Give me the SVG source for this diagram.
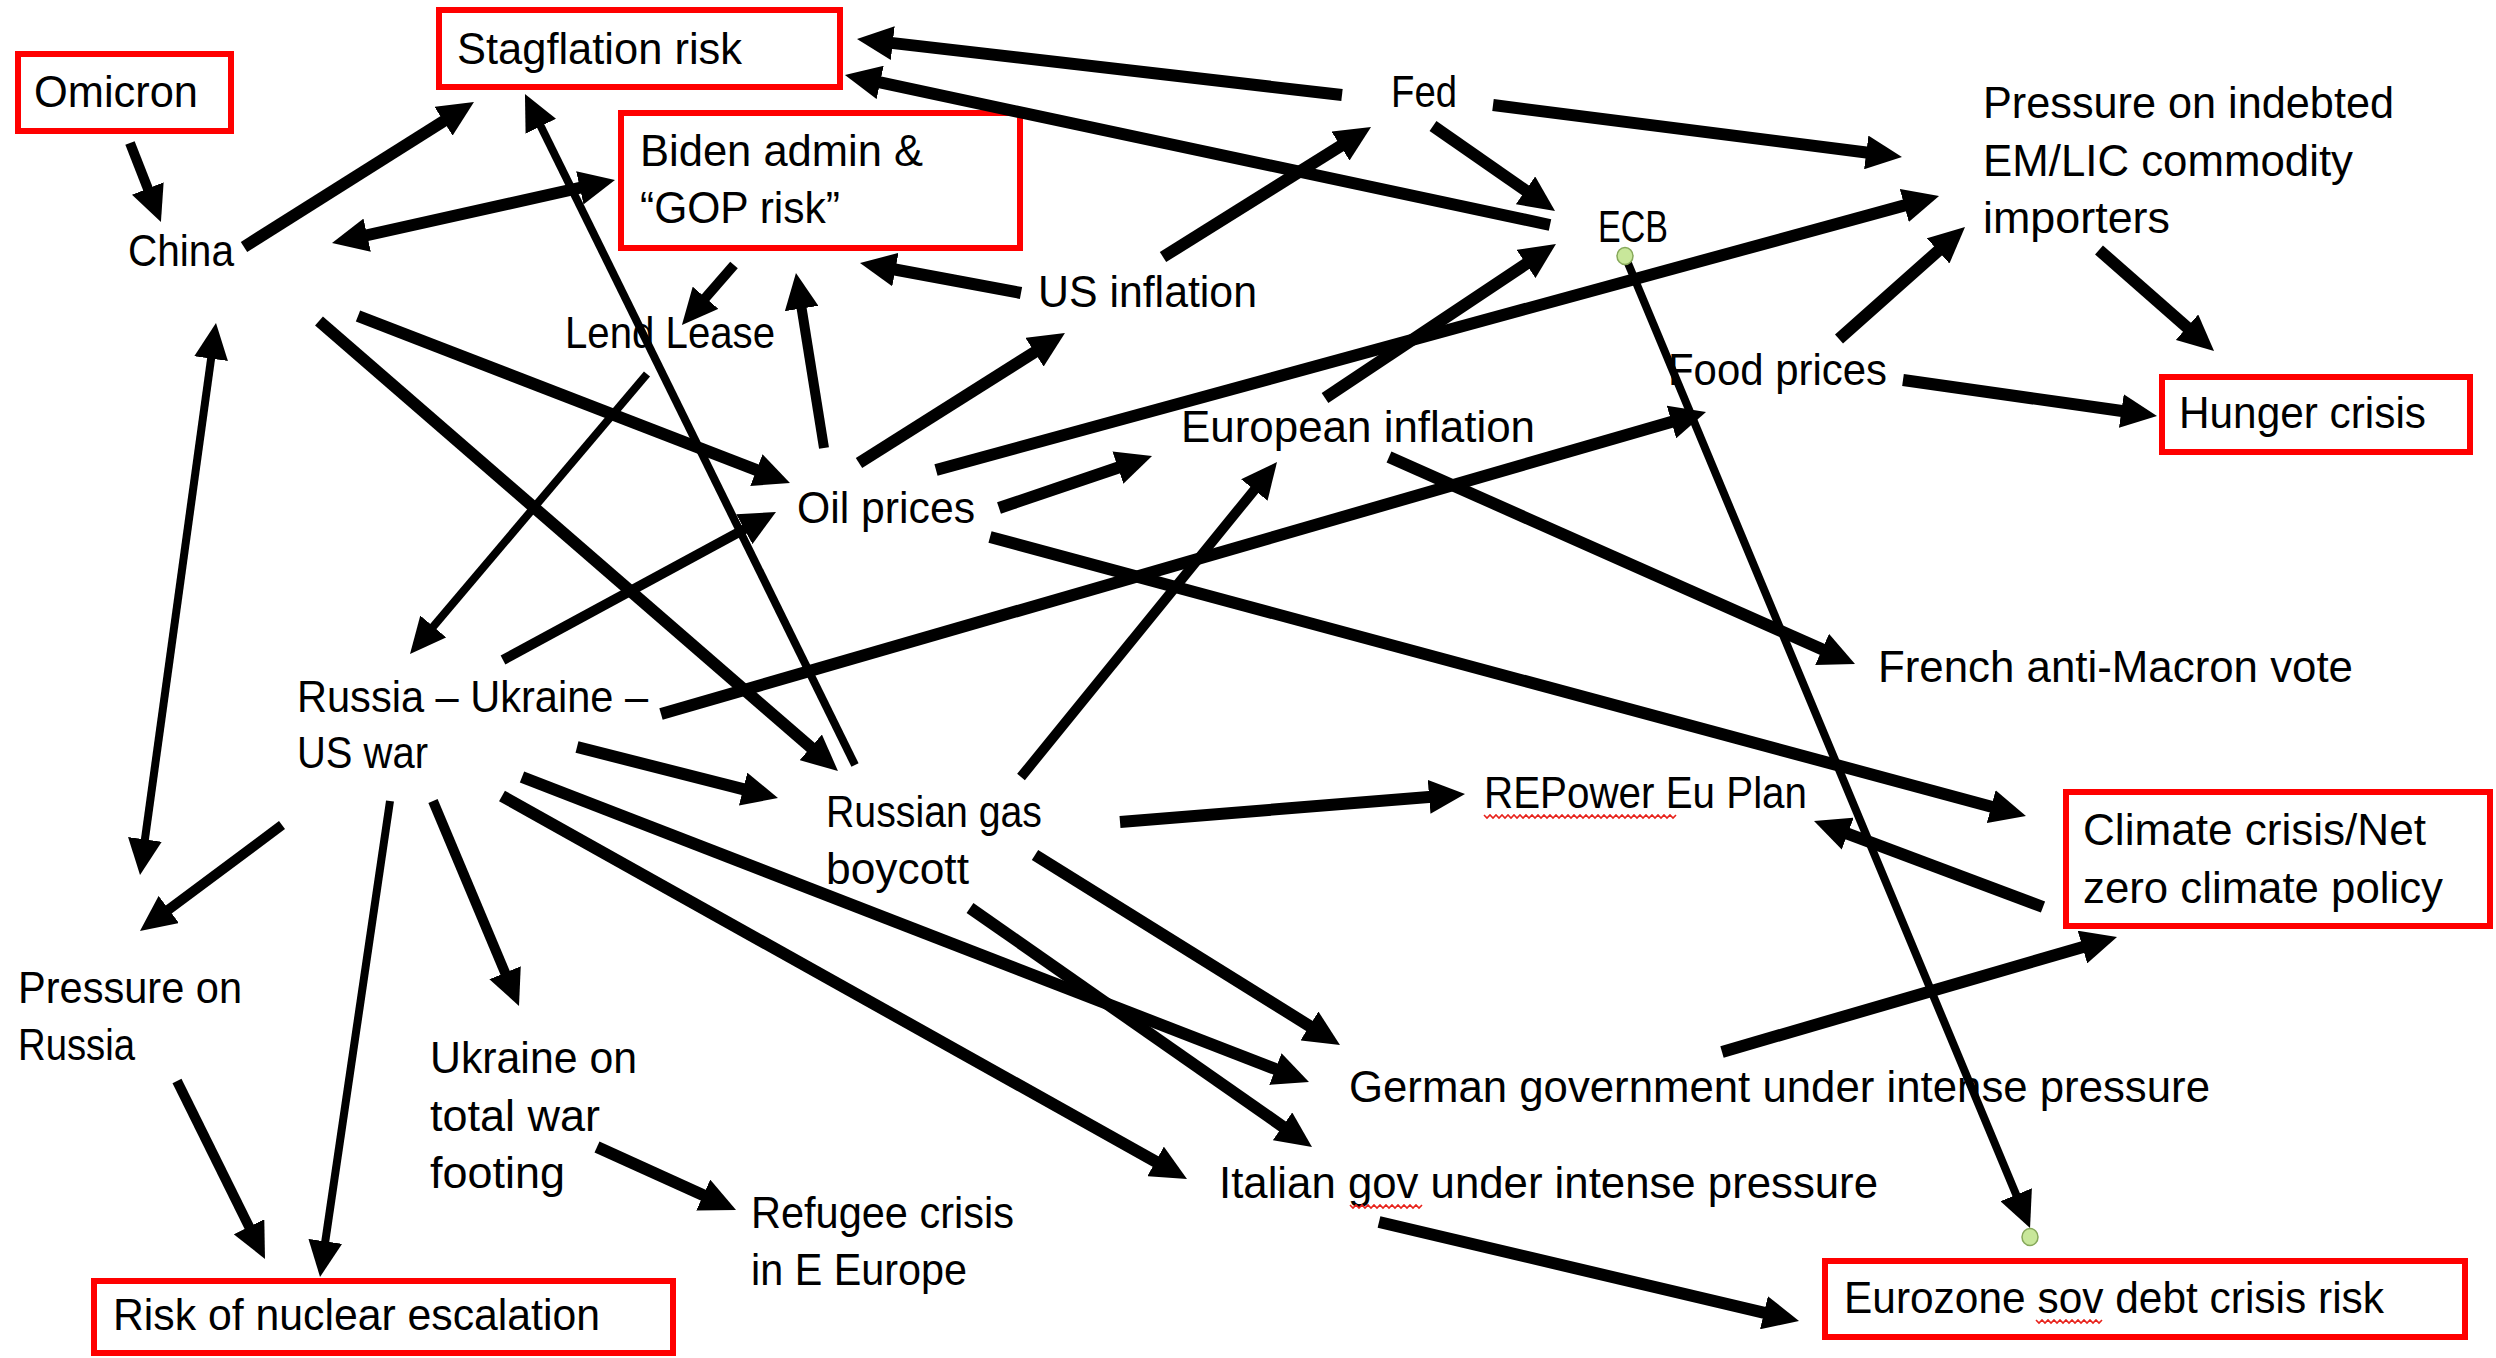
<svg xmlns="http://www.w3.org/2000/svg" width="2496" height="1358" viewBox="0 0 2496 1358">
<defs>
<style>
text{font-family:"Liberation Sans",Arial,sans-serif;font-size:44px;fill:#000}
.box{fill:none;stroke:#ff0000;stroke-width:6}
.c{stroke:#000;fill:none;stroke-width:12;marker-end:url(#ah)}
.m{stroke-width:10}
.t{stroke-width:8}
.both{marker-start:url(#ahs)}
.sq{fill:none;stroke:#e8231c;stroke-width:1.6}
.dot{fill:#c8e79a;stroke:#86a85a;stroke-width:1.5}
</style>
<marker id="ah" markerUnits="userSpaceOnUse" markerWidth="36" markerHeight="34" refX="6" refY="17" orient="auto"><path d="M0,0 L36,17 L0,34 Z" fill="#000"/></marker>
<marker id="ahs" markerUnits="userSpaceOnUse" markerWidth="36" markerHeight="34" refX="6" refY="17" orient="auto-start-reverse"><path d="M0,0 L36,17 L0,34 Z" fill="#000"/></marker>
</defs>
<rect width="2496" height="1358" fill="#fff"/>

<g id="omicron"><rect class="box" x="18" y="54" width="213" height="77"/><text x="34" y="107" textLength="164" lengthAdjust="spacingAndGlyphs">Omicron</text></g>
<g id="stagflation"><rect class="box" x="439" y="10" width="401" height="77"/><text x="457" y="64" textLength="285" lengthAdjust="spacingAndGlyphs">Stagflation risk</text></g>
<g id="china"><text x="128" y="266" textLength="106" lengthAdjust="spacingAndGlyphs">China</text></g>
<g id="biden"><rect class="box" x="621" y="113" width="399" height="135"/><text x="640" y="166" textLength="283" lengthAdjust="spacingAndGlyphs">Biden admin &amp;</text><text x="640" y="223" textLength="200" lengthAdjust="spacingAndGlyphs">“GOP risk”</text></g>
<g id="fed"><text x="1391" y="107" textLength="66" lengthAdjust="spacingAndGlyphs">Fed</text></g>
<g id="ecb"><text x="1598" y="242" textLength="70" lengthAdjust="spacingAndGlyphs">ECB</text></g>
<g id="em-pressure"><text x="1983" y="118" textLength="411" lengthAdjust="spacingAndGlyphs">Pressure on indebted</text><text x="1983" y="176" textLength="370" lengthAdjust="spacingAndGlyphs">EM/LIC commodity</text><text x="1983" y="233" textLength="187" lengthAdjust="spacingAndGlyphs">importers</text></g>
<g id="lend-lease"><text x="565" y="348" textLength="210" lengthAdjust="spacingAndGlyphs">Lend Lease</text></g>
<g id="us-inflation"><text x="1038" y="307" textLength="219" lengthAdjust="spacingAndGlyphs">US inflation</text></g>
<g id="food-prices"><text x="1668" y="385" textLength="219" lengthAdjust="spacingAndGlyphs">Food prices</text></g>
<g id="hunger"><rect class="box" x="2162" y="377" width="308" height="75"/><text x="2179" y="428" textLength="247" lengthAdjust="spacingAndGlyphs">Hunger crisis</text></g>
<g id="european-inflation"><text x="1181" y="442" textLength="354" lengthAdjust="spacingAndGlyphs">European inflation</text></g>
<g id="oil-prices"><text x="797" y="523" textLength="178" lengthAdjust="spacingAndGlyphs">Oil prices</text></g>
<g id="russia-war"><text x="297" y="712" textLength="351" lengthAdjust="spacingAndGlyphs">Russia – Ukraine –</text><text x="297" y="768" textLength="131" lengthAdjust="spacingAndGlyphs">US war</text></g>
<g id="french"><text x="1878" y="682" textLength="475" lengthAdjust="spacingAndGlyphs">French anti-Macron vote</text></g>
<g id="russian-gas"><text x="826" y="827" textLength="216" lengthAdjust="spacingAndGlyphs">Russian gas</text><text x="826" y="884" textLength="143" lengthAdjust="spacingAndGlyphs">boycott</text></g>
<g id="repower"><text x="1484" y="808" textLength="323" lengthAdjust="spacingAndGlyphs">REPower Eu Plan</text><path class="sq" d="M1484,815 l3,3 l3,-3 l3,3 l3,-3 l3,3 l3,-3 l3,3 l3,-3 l3,3 l3,-3 l3,3 l3,-3 l3,3 l3,-3 l3,3 l3,-3 l3,3 l3,-3 l3,3 l3,-3 l3,3 l3,-3 l3,3 l3,-3 l3,3 l3,-3 l3,3 l3,-3 l3,3 l3,-3 l3,3 l3,-3 l3,3 l3,-3 l3,3 l3,-3 l3,3 l3,-3 l3,3 l3,-3 l3,3 l3,-3 l3,3 l3,-3 l3,3 l3,-3 l3,3 l3,-3 l3,3 l3,-3 l3,3 l3,-3 l3,3 l3,-3 l3,3 l3,-3 l3,3 l3,-3 l3,3 l3,-3 l3,3 l3,-3 l3,3 l3,-3"/></g>
<g id="climate"><rect class="box" x="2066" y="792" width="424" height="134"/><text x="2083" y="845" textLength="343" lengthAdjust="spacingAndGlyphs">Climate crisis/Net</text><text x="2083" y="903" textLength="360" lengthAdjust="spacingAndGlyphs">zero climate policy</text></g>
<g id="pressure-russia"><text x="18" y="1003" textLength="224" lengthAdjust="spacingAndGlyphs">Pressure on</text><text x="18" y="1060" textLength="117" lengthAdjust="spacingAndGlyphs">Russia</text></g>
<g id="ukraine-total"><text x="430" y="1073" textLength="207" lengthAdjust="spacingAndGlyphs">Ukraine on</text><text x="430" y="1131" textLength="170" lengthAdjust="spacingAndGlyphs">total war</text><text x="430" y="1188" textLength="135" lengthAdjust="spacingAndGlyphs">footing</text></g>
<g id="german"><text x="1349" y="1102" textLength="861" lengthAdjust="spacingAndGlyphs">German government under intense pressure</text></g>
<g id="italian"><text x="1219" y="1198" textLength="659" lengthAdjust="spacingAndGlyphs">Italian gov under intense pressure</text><path class="sq" d="M1350,1205 l3,3 l3,-3 l3,3 l3,-3 l3,3 l3,-3 l3,3 l3,-3 l3,3 l3,-3 l3,3 l3,-3 l3,3 l3,-3 l3,3 l3,-3 l3,3 l3,-3 l3,3 l3,-3 l3,3 l3,-3 l3,3 l3,-3"/></g>
<g id="refugee"><text x="751" y="1228" textLength="263" lengthAdjust="spacingAndGlyphs">Refugee crisis</text><text x="751" y="1285" textLength="216" lengthAdjust="spacingAndGlyphs">in E Europe</text></g>
<g id="nuclear"><rect class="box" x="94" y="1281" width="579" height="72"/><text x="113" y="1330" textLength="487" lengthAdjust="spacingAndGlyphs">Risk of nuclear escalation</text></g>
<g id="eurozone"><rect class="box" x="1825" y="1261" width="640" height="76"/><text x="1844" y="1313" textLength="540" lengthAdjust="spacingAndGlyphs">Eurozone sov debt crisis risk</text><path class="sq" d="M2036,1320 l3,3 l3,-3 l3,3 l3,-3 l3,3 l3,-3 l3,3 l3,-3 l3,3 l3,-3 l3,3 l3,-3 l3,3 l3,-3 l3,3 l3,-3 l3,3 l3,-3 l3,3 l3,-3 l3,3 l3,-3"/></g>

<g id="connectors">
<line class="c m" x1="130" y1="143" x2="150.0" y2="194.1"/>
<line class="c" x1="244" y1="247" x2="448.6" y2="118.0"/>
<line class="c both" x1="361.3" y1="236.5" x2="585.7" y2="186.5"/>
<line class="c t" x1="855" y1="765" x2="538.2" y2="120.9"/>
<line class="c m" x1="734" y1="265" x2="701.6" y2="302.3"/>
<line class="c m" x1="824" y1="448" x2="800.7" y2="302.6"/>
<line class="c" x1="1021" y1="293" x2="889.5" y2="268.5"/>
<line class="c" x1="1342" y1="95" x2="886.8" y2="42.4"/>
<line class="c" x1="1550" y1="225" x2="874.3" y2="81.2"/>
<line class="c" x1="1163" y1="257" x2="1345.6" y2="142.9"/>
<line class="c" x1="1433" y1="126" x2="1530.4" y2="193.8"/>
<line class="c" x1="1493" y1="105" x2="1872.2" y2="153.2"/>
<line class="c" x1="936" y1="470" x2="1910.1" y2="203.9"/>
<line class="c" x1="1325" y1="398" x2="1531.0" y2="260.6"/>
<line class="c" x1="859" y1="463" x2="1039.6" y2="349.0"/>
<line class="c" x1="999" y1="508" x2="1123.6" y2="465.7"/>
<line class="c t" x1="1625" y1="256" x2="2018.5" y2="1200.3"/>
<line class="c" x1="1839" y1="339" x2="1942.6" y2="246.9"/>
<line class="c" x1="2099" y1="250" x2="2191.5" y2="331.2"/>
<line class="c" x1="1903" y1="380" x2="2127.3" y2="411.8"/>
<line class="c" x1="661" y1="714" x2="1677.2" y2="420.3"/>
<line class="c" x1="1389" y1="457" x2="1827.6" y2="651.8"/>
<line class="c" x1="990" y1="537" x2="1997.0" y2="808.2"/>
<line class="c" x1="2043" y1="907" x2="1842.1" y2="831.6"/>
<line class="c" x1="1722" y1="1052" x2="2088.2" y2="945.4"/>
<line class="c" x1="1120" y1="822" x2="1435.1" y2="796.4"/>
<line class="c m" x1="1021" y1="777" x2="1258.1" y2="485.3"/>
<line class="c" x1="1035" y1="855" x2="1314.5" y2="1029.1"/>
<line class="c" x1="970" y1="908" x2="1287.4" y2="1129.8"/>
<line class="c" x1="522" y1="777" x2="1281.0" y2="1071.2"/>
<line class="c" x1="502" y1="796" x2="1160.8" y2="1164.4"/>
<line class="c" x1="577" y1="747" x2="748.9" y2="790.6"/>
<line class="c m" x1="503" y1="660" x2="749.6" y2="526.3"/>
<line class="c t" x1="647" y1="374" x2="429.4" y2="631.1"/>
<line class="c" x1="358" y1="316" x2="762.0" y2="472.2"/>
<line class="c" x1="319" y1="321" x2="815.3" y2="751.3"/>
<line class="c t both" x1="211.9" y1="352.7" x2="144.1" y2="845.3"/>
<line class="c m" x1="282" y1="825" x2="164.0" y2="913.1"/>
<line class="c m" x1="177" y1="1081" x2="251.7" y2="1232.1"/>
<line class="c t" x1="390" y1="801" x2="324.4" y2="1247.3"/>
<line class="c m" x1="433" y1="801" x2="507.4" y2="978.3"/>
<line class="c" x1="597" y1="1147" x2="708.7" y2="1197.6"/>
<line class="c" x1="1379" y1="1222" x2="1769.8" y2="1314.1"/>
</g>
<g id="handles"><ellipse class="dot" cx="1625" cy="256" rx="8" ry="8.5"/><ellipse class="dot" cx="2030" cy="1237" rx="8" ry="8.5"/></g>
</svg>
